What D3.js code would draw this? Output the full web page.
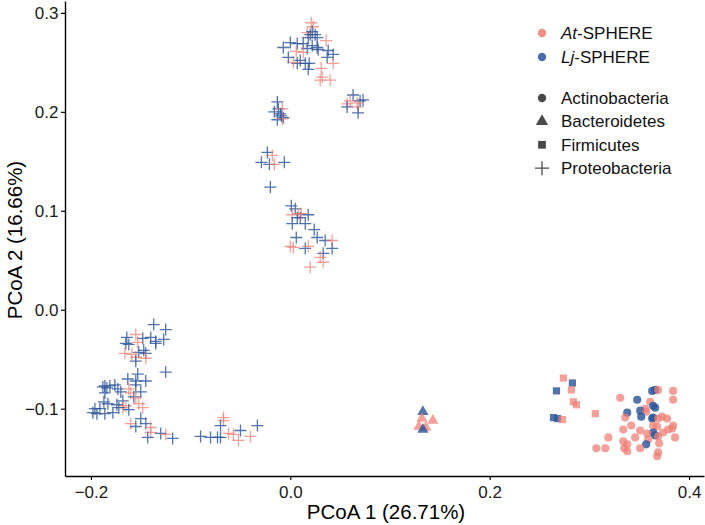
<!DOCTYPE html>
<html><head><meta charset="utf-8">
<script src="https://cdn.jsdelivr.net/npm/d3@7"></script>
<style>
body{margin:0;background:#fff;}
text{font-family:"Liberation Sans",Arial,Helvetica,sans-serif;}
</style></head>
<body><svg id="c" width="705" height="525"></svg>
<script>
// ---- data (PCoA coordinates, source: A = At-SPHERE, L = Lj-SPHERE) ----
const xTicks = [-0.2, 0.0, 0.2, 0.4];
const yTicks = [-0.1, 0.0, 0.1, 0.2, 0.3];
const xTitle = "PCoA 1 (26.71%)";
const yTitle = "PCoA 2 (16.66%)";
const sourceNames = ["At", "Lj"];
const phylumNames = ["Actinobacteria", "Bacteroidetes", "Firmicutes", "Proteobacteria"];

const proteoX = [0.021,0.023,0.017,0.022,0.020,0.025,0.018,0.027,0.036,0.007,0.013,0.022,0.027,0.017,0.028,0.013,0.038,0.043,0.037,0.043,0.010,0.007,0.003,0.015,0.019,0.018,0.031,0.032,0.040,0.030,-0.007,0.000,0.006,-0.002,
 -0.013,-0.012,-0.008,-0.016,-0.010,-0.007,-0.013,-0.008,-0.009,
 0.063,0.060,0.057,0.073,0.070,0.067,0.057,0.068,0.068,
 -0.023,-0.018,-0.029,-0.021,-0.016,-0.006,-0.020,
 0.001,0.005,0.002,0.008,0.007,0.010,0.011,0.018,0.002,0.015,0.024,0.006,0.027,0.035,0.042,0.000,0.003,0.015,0.018,0.042,0.033,0.030,0.033,0.020,
 -0.137,-0.125,-0.164,-0.155,-0.148,-0.140,-0.135,-0.127,-0.165,-0.162,-0.153,-0.135,-0.166,-0.159,-0.152,-0.147,-0.145,-0.155,-0.145,-0.155,-0.125,-0.153,-0.163,-0.155,-0.145,-0.155,-0.186,-0.188,-0.184,-0.181,-0.176,-0.173,-0.162,-0.150,-0.170,-0.160,-0.186,-0.157,-0.155,-0.168,-0.152,-0.187,-0.183,-0.174,-0.168,-0.165,-0.172,-0.196,-0.191,-0.198,-0.194,-0.186,-0.178,-0.148,-0.162,-0.150,-0.145,-0.160,-0.155,-0.140,-0.140,-0.143,-0.130,-0.125,-0.118,
 -0.067,-0.067,-0.070,-0.062,-0.057,-0.050,-0.033,-0.080,-0.073,-0.070,-0.090,-0.052,-0.040];
const proteoY = [0.290,0.286,0.280,0.281,0.278,0.278,0.275,0.275,0.272,0.269,0.269,0.267,0.265,0.264,0.263,0.260,0.262,0.258,0.255,0.249,0.252,0.249,0.250,0.249,0.249,0.243,0.244,0.235,0.232,0.232,0.265,0.270,0.261,0.255,
 0.210,0.203,0.203,0.200,0.198,0.194,0.192,0.193,0.196,
 0.217,0.211,0.208,0.212,0.211,0.209,0.205,0.205,0.199,
 0.159,0.156,0.149,0.147,0.147,0.149,0.124,
 0.105,0.102,0.096,0.097,0.093,0.093,0.097,0.096,0.087,0.087,0.081,0.073,0.073,0.070,0.070,0.064,0.063,0.062,0.064,0.062,0.057,0.053,0.048,0.043,
 -0.015,-0.020,-0.028,-0.025,-0.029,-0.028,-0.032,-0.030,-0.034,-0.035,-0.033,-0.034,-0.044,-0.045,-0.043,-0.041,-0.044,-0.048,-0.049,-0.052,-0.063,-0.065,-0.070,-0.072,-0.072,-0.076,-0.077,-0.078,-0.079,-0.077,-0.076,-0.080,-0.080,-0.083,-0.083,-0.084,-0.084,-0.088,-0.089,-0.092,-0.095,-0.093,-0.095,-0.096,-0.099,-0.097,-0.099,-0.100,-0.100,-0.104,-0.105,-0.105,-0.104,-0.099,-0.101,-0.110,-0.115,-0.115,-0.118,-0.119,-0.124,-0.129,-0.125,-0.126,-0.130,
 -0.109,-0.112,-0.117,-0.125,-0.126,-0.122,-0.117,-0.129,-0.129,-0.129,-0.128,-0.132,-0.128];
const proteoSrc = ["A","A","A","L","L","L","L","L","A","L","L","L","L","L","L","A","L","L","L","A","L","L","A","L","L","L","A","A","A","A","L","L","A","L",
 "L","L","A","L","L","L","L","A","L",
 "L","A","A","L","L","A","L","A","L",
 "L","A","L","L","A","L","L",
 "L","L","A","A","L","L","A","L","L","L","L","L","L","L","A","A","A","L","A","L","L","A","A","A",
 "L","L","L","A","L","L","L","L","L","L","A","L","A","A","L","L","L","A","A","L","L","L","L","L","L","L","L","L","L","L","L","L","A","L","L","A","L","L","A","L","A","L","L","L","A","A","L","L","L","L","L","L","L","A","L","L","L","A","L","A","A","L","L","A","L",
 "A","A","L","A","A","L","L","L","L","L","L","A","A"];

const bactX = [0.133,0.143,0.132,0.129,0.136,0.133];
const bactY = [-0.103,-0.112,-0.110,-0.118,-0.119,-0.121];
const bactSrc = ["L","A","A","A","A","L"];

const firmX = [0.274,0.283,0.267,0.282,0.284,0.287,0.306,0.264,0.268,0.273];
const firmY = [-0.069,-0.074,-0.082,-0.081,-0.093,-0.096,-0.105,-0.109,-0.110,-0.111];
const firmSrc = ["A","L","L","A","A","A","A","L","L","A"];

const actinoX = [0.384,0.363,0.366,0.369,0.384,0.331,0.348,0.361,0.364,0.366,0.356,0.351,0.357,0.338,0.352,0.336,0.373,0.378,0.364,0.363,0.369,0.342,0.364,0.368,0.384,0.383,0.334,0.351,0.379,0.374,0.364,0.358,0.366,0.369,0.386,0.319,0.346,0.359,0.334,0.370,0.338,0.357,0.307,0.316,0.335,0.351,0.338,0.369,0.368];
const actinoY = [-0.082,-0.082,-0.081,-0.081,-0.091,-0.089,-0.091,-0.093,-0.097,-0.099,-0.100,-0.102,-0.103,-0.104,-0.108,-0.109,-0.108,-0.110,-0.109,-0.110,-0.110,-0.117,-0.117,-0.118,-0.117,-0.120,-0.121,-0.122,-0.121,-0.124,-0.124,-0.125,-0.127,-0.128,-0.129,-0.129,-0.129,-0.131,-0.133,-0.135,-0.136,-0.136,-0.140,-0.140,-0.140,-0.140,-0.143,-0.144,-0.148];
const actinoSrc = ["A","L","L","A","A","A","L","A","L","L","A","L","A","L","L","A","A","A","L","L","A","A","A","A","A","A","A","A","A","A","L","A","L","A","A","A","A","A","A","A","A","L","A","A","A","A","A","A","A"];

// ---- chart ----
const svg = d3.select("#c");
const W = 705, H = 525;
const m = {l: 65, r: 1, t: 1, b: 49};
const x = d3.scaleLinear().domain([-0.226, 0.415]).range([m.l, W - m.r]);
const y = d3.scaleLinear().domain([-0.168, 0.312]).range([H - m.b, m.t]);
const col = {A: "#EF7B72", L: "#2C559B"};
const op = {A: 0.72, L: 0.82};

function pack(xs, ys, ss, ph) { return xs.map((v, i) => ({x: v, y: ys[i], s: ss[i], p: ph})); }
const pts = [].concat(
  pack(actinoX, actinoY, actinoSrc, "Actinobacteria"),
  pack(firmX, firmY, firmSrc, "Firmicutes"),
  pack(bactX, bactY, bactSrc, "Bacteroidetes"),
  pack(proteoX, proteoY, proteoSrc, "Proteobacteria")
);

const plusPath = "M-6,0H6M0,-6V6";
const symPath = {
  Actinobacteria: d3.symbol(d3.symbolCircle, 52)(),
  Bacteroidetes: d3.symbol(d3.symbolTriangle, 55)(),
  Firmicutes: d3.symbol(d3.symbolSquare, 52)(),
  Proteobacteria: plusPath
};

const g = svg.append("g");
g.selectAll("path.pt").data(pts).join("path")
  .attr("class", "pt")
  .attr("transform", d => `translate(${x(d.x)},${y(d.y)})`)
  .attr("d", d => symPath[d.p])
  .attr("fill", d => d.p === "Proteobacteria" ? "none" : col[d.s])
  .attr("stroke", d => d.p === "Proteobacteria" ? col[d.s] : "none")
  .attr("stroke-width", 1.3)
  .attr("opacity", d => op[d.s]);

// axes
const fmt = d => d3.format(".1f")(d).replace("-", "\u2212");
const xa = svg.append("g").attr("transform", `translate(0,${H - m.b})`)
  .call(d3.axisBottom(x).tickValues(xTicks).tickFormat(fmt).tickSize(4).tickSizeOuter(0));
const ya = svg.append("g").attr("transform", `translate(${m.l},0)`)
  .call(d3.axisLeft(y).tickValues(yTicks).tickFormat(fmt).tickSize(4).tickSizeOuter(0));
[xa, ya].forEach(a => {
  a.select(".domain").attr("stroke", "#000").attr("stroke-width", 1.4);
  a.selectAll(".tick line").attr("stroke", "#000").attr("stroke-width", 1.2);
  a.selectAll(".tick text").attr("fill", "#1a1a1a").attr("font-size", 17)
   .attr("font-family", "Liberation Sans, Arial, sans-serif");
});
xa.selectAll(".tick text").attr("y", 9.5);
ya.selectAll(".tick text").attr("x", -6.5);

svg.append("text").attr("x", (m.l + W) / 2 + 1).attr("y", 519).attr("text-anchor", "middle")
  .attr("font-size", 20.5).attr("fill", "#000").text(xTitle);
svg.append("text").attr("transform", `translate(22,${(H - m.b) / 2 + 2}) rotate(-90)`)
  .attr("text-anchor", "middle").attr("font-size", 20.5).attr("fill", "#000").text(yTitle);

// legend
const lg = svg.append("g");
sourceNames.forEach((s, i) => {
  const yy = 33 + i * 24;
  lg.append("path").attr("transform", `translate(542,${yy})`).attr("d", d3.symbol(d3.symbolCircle, 55)())
    .attr("fill", col[s === "At" ? "A" : "L"]).attr("opacity", 0.85);
  const t = lg.append("text").attr("x", 561).attr("y", yy + 6).attr("font-size", 17).attr("fill", "#111");
  t.append("tspan").attr("font-style", "italic").text(s);
  t.append("tspan").text("-SPHERE");
});
const legSym = {
  Actinobacteria: d3.symbol(d3.symbolCircle, 55)(),
  Bacteroidetes: d3.symbol(d3.symbolTriangle, 65)(),
  Firmicutes: d3.symbol(d3.symbolSquare, 60)(),
  Proteobacteria: "M-7,0H7M0,-7V7"
};
phylumNames.forEach((p, i) => {
  const yy = 98 + i * 23.4;
  lg.append("path").attr("transform", `translate(542,${yy})`).attr("d", legSym[p])
    .attr("fill", p === "Proteobacteria" ? "none" : "#4a4a4a")
    .attr("stroke", p === "Proteobacteria" ? "#4a4a4a" : "none").attr("stroke-width", 1.3);
  lg.append("text").attr("x", 561).attr("y", yy + 6).attr("font-size", 17).attr("fill", "#111").text(p);
});
</script></body></html>
